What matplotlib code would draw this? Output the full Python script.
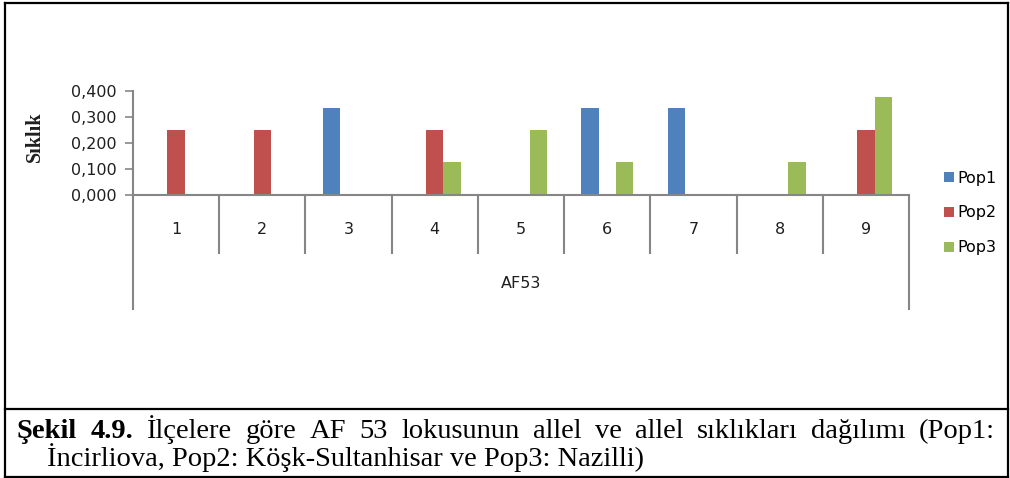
import matplotlib.pyplot as plt
import numpy as np

# allele frequencies at the AF53 locus
alleles = ["1", "2", "3", "4", "5", "6", "7", "8", "9"]
pop1 = [0, 0, 0.333, 0, 0, 0.333, 0.333, 0, 0]
pop2 = [0.25, 0.25, 0, 0.25, 0, 0, 0, 0, 0.25]
pop3 = [0, 0, 0, 0.125, 0.25, 0.125, 0, 0.125, 0.375]
series = ["Pop1", "Pop2", "Pop3"]
colors = ["#4F81BD", "#C0504D", "#9BBB59"]
yticks = [0, 0.1, 0.2, 0.3, 0.4]
locus = "AF53"

caption_line1 = [("Şekil", "bold"), ("4.9.", "bold"), ("İlçelere", "normal"),
                 ("göre", "normal"), ("AF", "normal"), ("53", "normal"),
                 ("lokusunun", "normal"), ("allel", "normal"), ("ve", "normal"),
                 ("allel", "normal"), ("sıklıkları", "normal"),
                 ("dağılımı", "normal"), ("(Pop1:", "normal")]
caption_line2 = "İncirliova, Pop2: Köşk-Sultanhisar ve Pop3: Nazilli)"

W, H = 1010, 478
GREY = "#868686"
TXT = "#1f1f1f"
SANS = "DejaVu Sans"
SERIF = "Liberation Serif"
FS = 11.5
CAP_FS = 20.5


def fx(px):
    return px / W


def fy(py):
    return 1 - py / H


fig = plt.figure(figsize=(W / 100, H / 100), dpi=100)
ax = fig.add_axes([fx(133), fy(195), fx(909) - fx(133), fy(90.7) - fy(195)])

x = np.arange(len(alleles))
bw = 0.2
for i, (vals, name, c) in enumerate(zip([pop1, pop2, pop3], series, colors)):
    ax.bar(x + (i - 1) * bw, vals, bw, color=c, label=name, linewidth=0)

ax.set_xlim(-0.5, len(alleles) - 0.5)
ax.set_ylim(0, 0.4)
ax.set_yticks(yticks)
ax.set_yticklabels([f"{v:.3f}".replace(".", ",") for v in yticks],
                   fontsize=FS, color=TXT, family=SANS)
ax.tick_params(axis="y", length=6, width=1.2, color=GREY, pad=6)

for s in ["top", "right"]:
    ax.spines[s].set_visible(False)
for s in ["left", "bottom"]:
    ax.spines[s].set_color(GREY)
    ax.spines[s].set_linewidth(1.5)

# category dividers under the axis
ax.set_xticks([])
trans = ax.get_xaxis_transform()
for b in np.arange(0.5, len(alleles) - 1, 1.0):
    ax.plot([b, b], [0, -0.556], transform=trans, color=GREY, lw=1.5,
            clip_on=False)
for b in [-0.5, len(alleles) - 0.5]:
    ax.plot([b, b], [0, -1.093], transform=trans, color=GREY, lw=1.5,
            clip_on=False)
for xi, lab in zip(x, alleles):
    ax.text(xi, -0.326, lab, transform=trans, ha="center", va="center",
            fontsize=FS, color=TXT, family=SANS)
ax.text((len(alleles) - 1) / 2, -0.853, locus, transform=trans, ha="center",
        va="center", fontsize=FS, color=TXT, family=SANS)

fig.text(fx(35), fy(137), "Sıklık", rotation=90, ha="center", va="center",
         fontsize=14.5, fontweight="bold", family=SERIF, color=TXT)

ax.legend(loc="center left", bbox_to_anchor=(fx(936), fy(213)),
          bbox_transform=fig.transFigure, frameon=False, borderpad=0,
          handlelength=0.62, handleheight=0.62, handletextpad=0.2,
          labelspacing=1.25, prop={"family": SANS, "size": FS})

# outer frame and caption box
frame = dict(color="black", lw=1.6, solid_capstyle="projecting")
fig.add_artist(plt.Line2D([fx(5), fx(1007.5)], [fy(2.5), fy(2.5)], **frame))
fig.add_artist(plt.Line2D([fx(5), fx(1007.5)], [fy(477), fy(477)], **frame))
fig.add_artist(plt.Line2D([fx(5), fx(5)], [fy(2.5), fy(477)], **frame))
fig.add_artist(plt.Line2D([fx(1007.5), fx(1007.5)], [fy(2.5), fy(477)], **frame))
fig.add_artist(plt.Line2D([fx(5), fx(1007.5)], [fy(408.5), fy(408.5)], **frame))

# first caption line, justified between the margins
renderer = fig.canvas.get_renderer()
words = [fig.text(0, fy(438), w, fontsize=CAP_FS, fontweight=wt, family=SERIF,
                  va="baseline") for w, wt in caption_line1]
widths = [t.get_window_extent(renderer).width for t in words]
left, right = 17, 995
gap = (right - left - sum(widths)) / (len(words) - 1)
pos = left
for t, wd in zip(words, widths):
    t.set_x(fx(pos))
    pos += wd + gap

fig.text(fx(47), fy(466), caption_line2, fontsize=CAP_FS, family=SERIF,
         va="baseline")

fig.savefig("out.png", dpi=100)
